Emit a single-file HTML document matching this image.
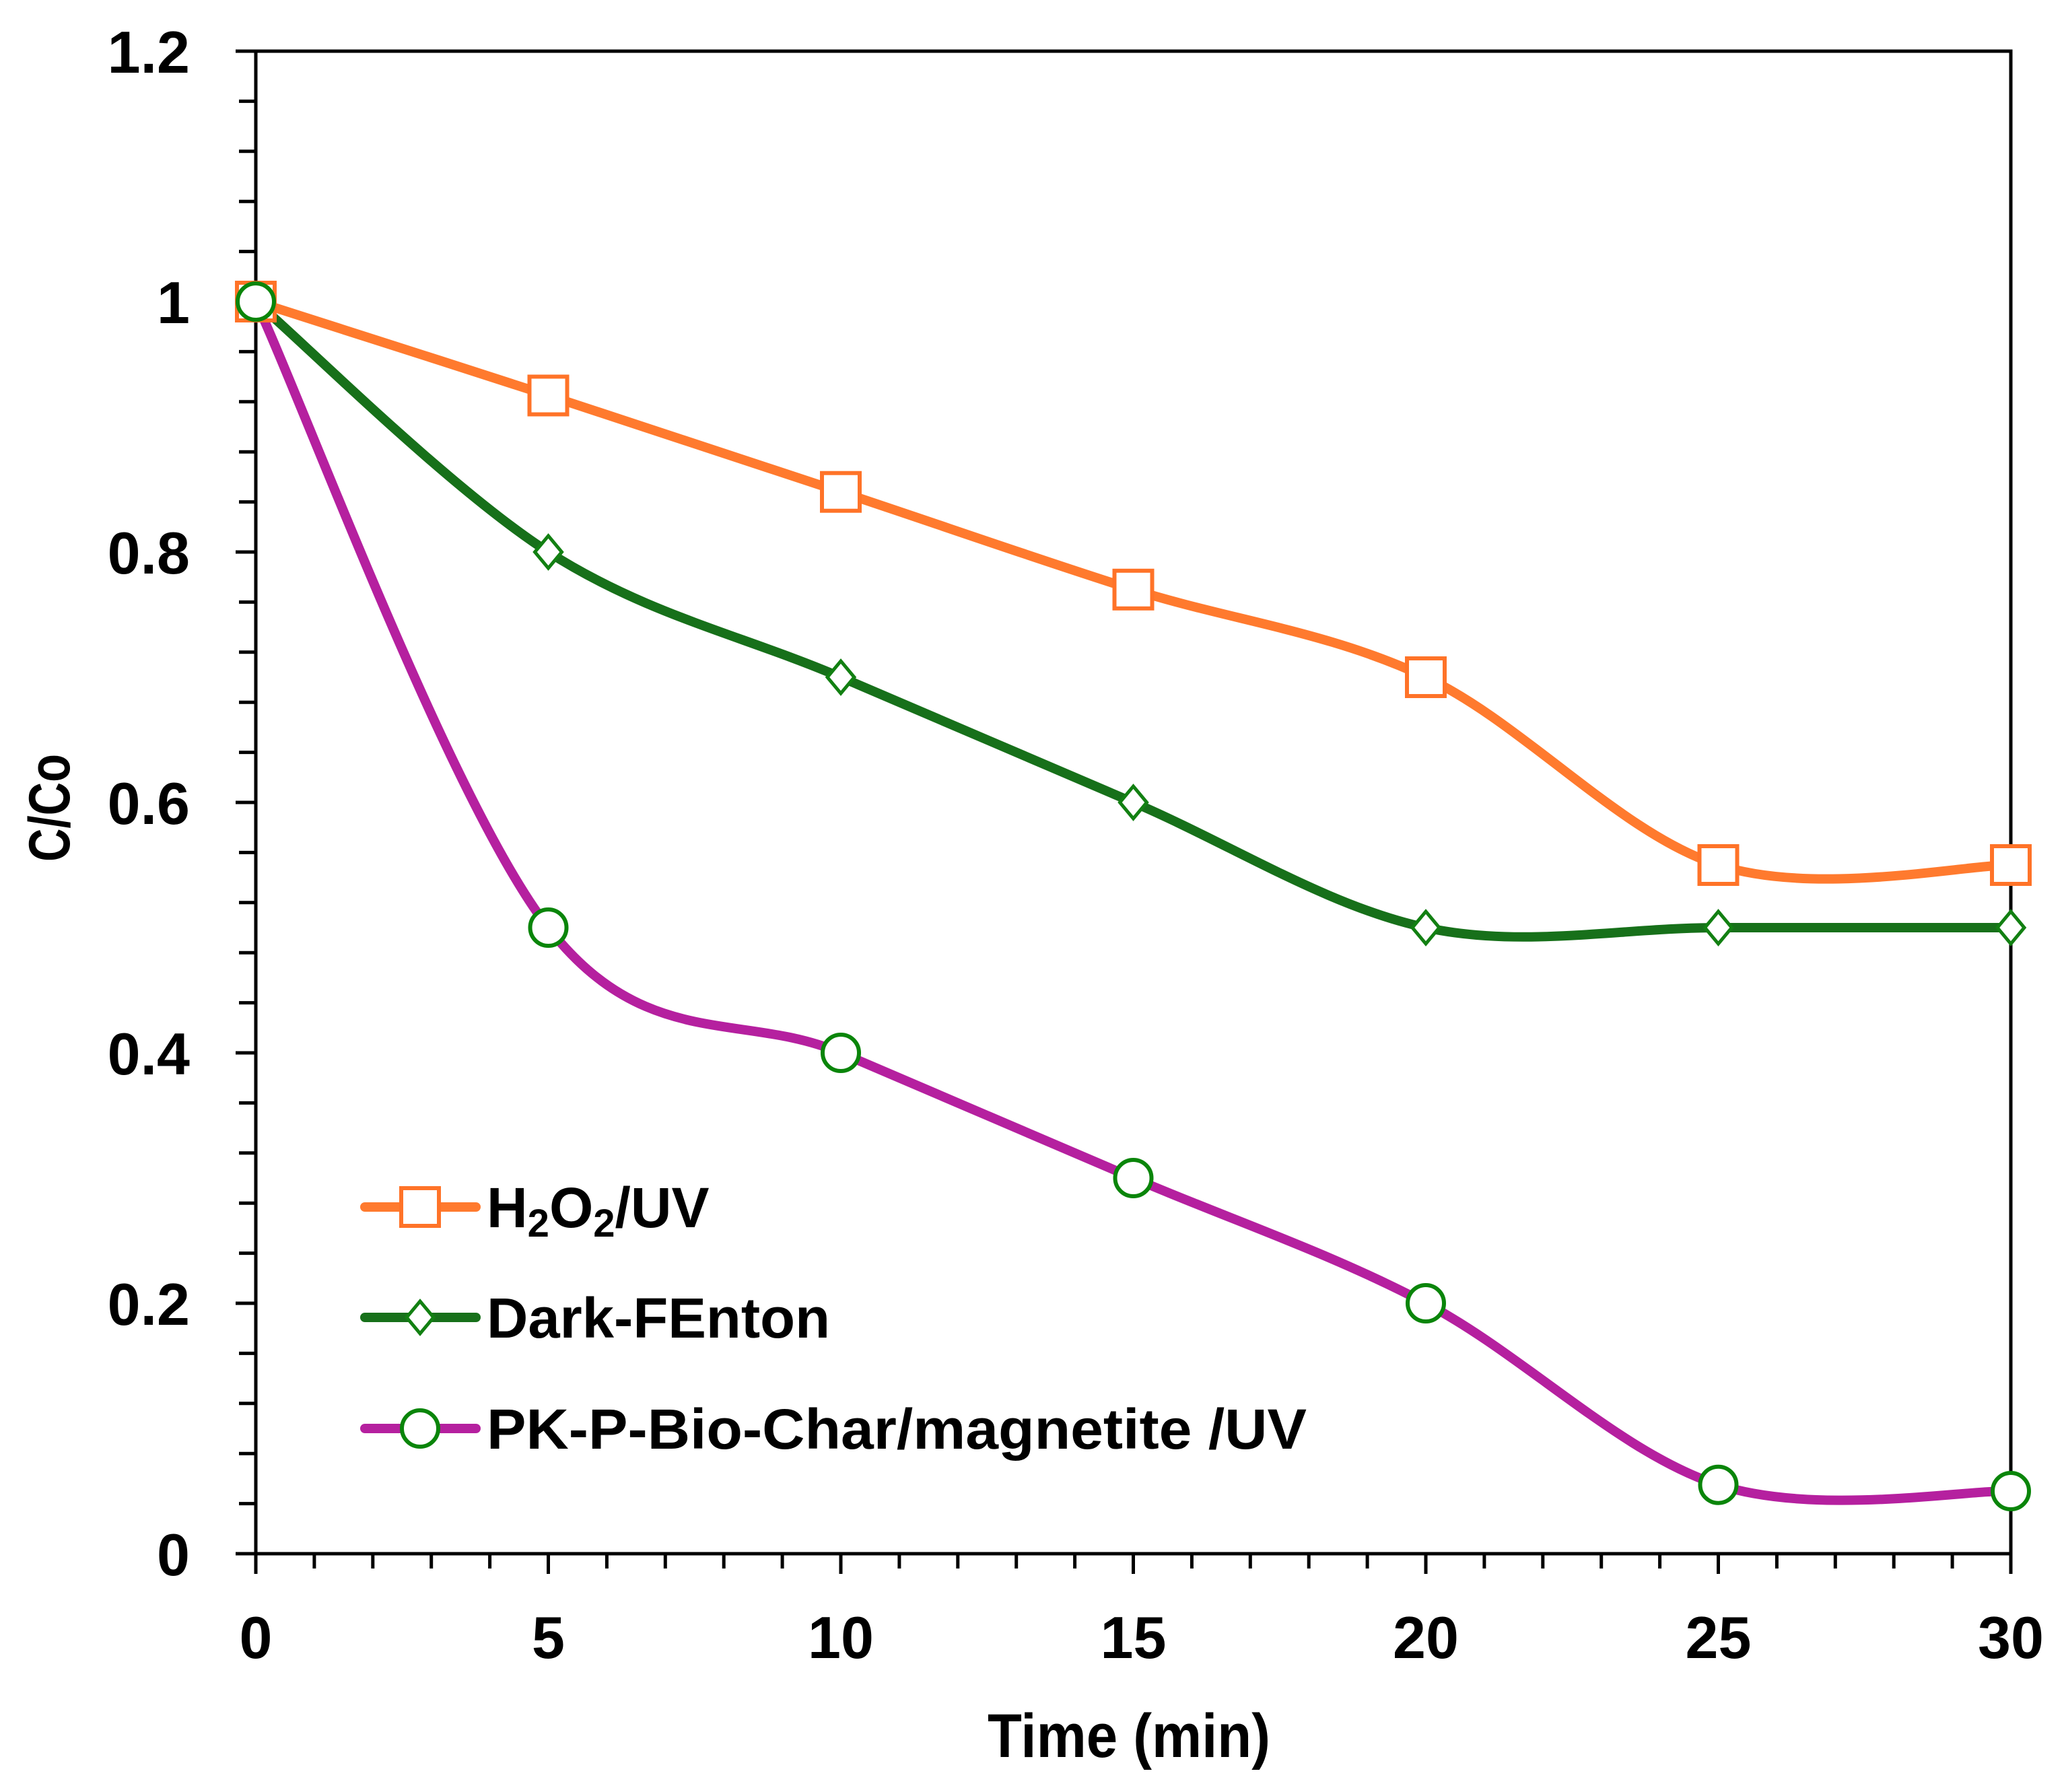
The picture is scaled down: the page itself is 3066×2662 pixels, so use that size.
<!DOCTYPE html>
<html><head><meta charset="utf-8"><style>
html,body{margin:0;padding:0;background:#fff}
svg{display:block}
text{font-family:"Liberation Sans",sans-serif;font-weight:bold;fill:#000}
</style></head><body>
<svg id="chart" width="3066" height="2662" viewBox="0 0 3066 2662" xmlns="http://www.w3.org/2000/svg">
<rect width="3066" height="2662" fill="#fff"/>
<g id="axes"></g>
<g id="series"></g>
<g id="legend"></g>
<text x="1677" y="2610" font-size="92" text-anchor="middle" textLength="420" lengthAdjust="spacingAndGlyphs">Time (min)</text>
<text transform="translate(103,1200) rotate(-90)" font-size="86" text-anchor="middle" textLength="160" lengthAdjust="spacingAndGlyphs">C/Co</text>
</svg>
<script>
const times = [0, 5, 10, 15, 20, 25, 30];
const h2o2 = [1, 0.925, 0.848, 0.77, 0.70, 0.55, 0.55];
const dark = [1, 0.80, 0.70, 0.60, 0.50, 0.50, 0.50];
const pk = [1, 0.50, 0.40, 0.30, 0.20, 0.055, 0.05];
const xTicks = [0, 5, 10, 15, 20, 25, 30];
const yTicks = [0, 0.2, 0.4, 0.6, 0.8, 1, 1.2];
const yTickLabels = ["0", "0.2", "0.4", "0.6", "0.8", "1", "1.2"];
const legendLabels = ["H2O2/UV", "Dark-FEnton", "PK-P-Bio-Char/magnetite /UV"];

const X0 = 380, X1 = 2987, Y0 = 2308, Y1 = 76;
const sx = v => X0 + (v - 0) / 30 * (X1 - X0);
const sy = v => Y0 - (v - 0) / 1.2 * (Y0 - Y1);
const NS = "http://www.w3.org/2000/svg";
function mk(tag, attrs, parent) {
  const e = document.createElementNS(NS, tag);
  for (const k in attrs) e.setAttribute(k, attrs[k]);
  parent.appendChild(e);
  return e;
}
const axes = document.getElementById('axes');
const series = document.getElementById('series');
const legend = document.getElementById('legend');

// frame
const frame = mk('rect', {x: X0, y: Y1, width: X1 - X0, height: Y0 - Y1, fill: 'none', stroke: '#000', 'stroke-width': 5}, axes);



// x ticks
for (let m = 0; m <= 30; m++) {
  const major = m % 5 === 0;
  const t = mk('line', {x1: sx(m), x2: sx(m), y1: Y0, y2: Y0 + (major ? 30 : 22), stroke: '#000', 'stroke-width': 5}, axes);
  
  
}
xTicks.forEach(v => {
  const t = mk('text', {x: sx(v), y: 2463, 'font-size': 88, 'text-anchor': 'middle'}, axes);
  t.textContent = String(v);
  
  
});
// y ticks
for (let i = 0; i <= 30; i++) {
  const v = i * 0.04;
  const major = i % 5 === 0;
  const t = mk('line', {x1: X0 - (major ? 30 : 25), x2: X0, y1: sy(v), y2: sy(v), stroke: '#000', 'stroke-width': 5}, axes);
  
  
}
yTicks.forEach((v, i) => {
  const t = mk('text', {x: 282, y: sy(v) + 32, 'font-size': 88, 'text-anchor': 'end'}, axes);
  t.textContent = yTickLabels[i];
  
  
});

function smoothPath(xs, ys) {
  const p = xs.map((x, i) => [sx(x), sy(ys[i])]);
  let d = `M${p[0][0]},${p[0][1]}`;
  for (let i = 0; i < p.length - 1; i++) {
    const p0 = p[Math.max(0, i - 1)], p1 = p[i], p2 = p[i + 1], p3 = p[Math.min(p.length - 1, i + 2)];
    const c1 = [p1[0] + (p2[0] - p0[0]) / 6, p1[1] + (p2[1] - p0[1]) / 6];
    const c2 = [p2[0] - (p3[0] - p1[0]) / 6, p2[1] - (p3[1] - p1[1]) / 6];
    d += ` C${c1[0]},${c1[1]} ${c2[0]},${c2[1]} ${p2[0]},${p2[1]}`;
  }
  return d;
}
function marker(type, cx, cy, parent, name) {
  let e;
  if (type === 'square') e = mk('rect', {x: cx - 28, y: cy - 28, width: 56, height: 56, fill: '#fff', stroke: '#ff7328', 'stroke-width': 6}, parent);
  else if (type === 'diamond') e = mk('polygon', {points: `${cx},${cy - 24} ${cx + 20},${cy} ${cx},${cy + 24} ${cx - 20},${cy}`, fill: '#fff', stroke: '#128012', 'stroke-width': 5}, parent);
  else e = mk('circle', {cx: cx, cy: cy, r: 27, fill: '#fff', stroke: '#0a850a', 'stroke-width': 6}, parent);
  
  
}
const defs = [
  {vals: h2o2, color: '#ff7a2e', mark: 'square', name: 'h2o2-uv'},
  {vals: dark, color: '#17701a', mark: 'diamond', name: 'dark-fenton'},
  {vals: pk, color: '#b5209f', mark: 'circle', name: 'pk-biochar-uv'}
];
defs.forEach(s => {
  const g = mk('g', {}, series);
  
  
  const path = mk('path', {d: smoothPath(times, s.vals), fill: 'none', stroke: s.color, 'stroke-width': 14, 'stroke-linejoin': 'round'}, g);
  
  
});
defs.forEach(s => {
  const g = mk('g', {}, series);
  
  
  times.forEach((t, i) => marker(s.mark, sx(t), sy(s.vals[i]), g, s.name + '-point'));
});

// legend
const legY = [1793, 1957, 2122];
defs.forEach((s, i) => {
  const g = mk('g', {}, legend);
  
  
  const l = mk('line', {x1: 542, x2: 707, y1: legY[i], y2: legY[i], stroke: s.color, 'stroke-width': 14, 'stroke-linecap': 'round'}, g);
  
  
  marker(s.mark, 624, legY[i], g, 'legend-marker');
  const t = mk('text', {x: 723, y: legY[i] + 30, 'font-size': 84}, g);
  
  
  if (i === 0) {
    t.innerHTML = 'H<tspan font-size="58" dy="14">2</tspan><tspan dy="-14">O</tspan><tspan font-size="58" dy="14">2</tspan><tspan dy="-14">/UV</tspan>';
  } else {
    t.textContent = legendLabels[i];
    t.setAttribute('textLength', i === 1 ? 510 : 1218);
    t.setAttribute('lengthAdjust', 'spacingAndGlyphs');
  }
});
</script>
</body></html>
